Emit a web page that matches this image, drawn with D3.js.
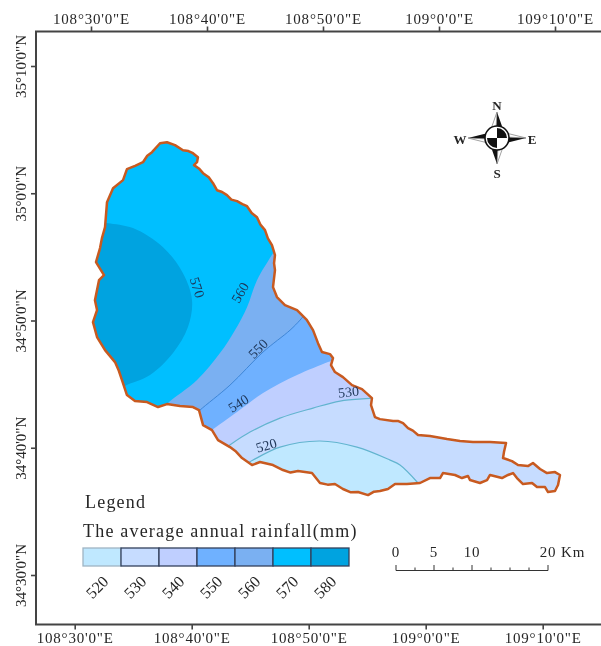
<!DOCTYPE html>
<html>
<head>
<meta charset="utf-8">
<style>
  html, body { margin: 0; padding: 0; background: #fff; }
  svg { display: block; filter: blur(0.45px); }
  text { font-family: "Liberation Serif", serif; fill: #262626; }
</style>
<script src="https://cdn.jsdelivr.net/npm/d3@7"></script>
</head>
<body>
<svg id="map" width="601" height="646"></svg>
<script>
// all map coordinates: [minutes east of 108°30', minutes north of 34°30']
var lonTicks = [0, 10, 20, 30, 40]
var lonLabels = ['108°30\'0"E', '108°40\'0"E', '108°50\'0"E', '109°0\'0"E', '109°10\'0"E']
var latTicks = [0, 10, 20, 30, 40]
var latLabels = ['34°30\'0"N', '34°40\'0"N', '34°50\'0"N', '35°0\'0"N', '35°10\'0"N']

var legendValues = [520, 530, 540, 550, 560, 570, 580]
var legendColors = ['#bfe8ff', '#c6dcff', '#bfcfff', '#6fb1ff', '#7ab0f2', '#00bfff', '#00a3e0']

var scaleKm = [0, 5, 10, 20]
var scaleMinor = [0, 2.5, 5, 7.5, 10, 12.5, 15, 17.5, 20]

var basin = [
  [5.95, 33.93], [6.55, 34.01], [7.24, 33.78], [7.93, 33.38], [8.40, 33.32], [8.79, 33.15], [9.22, 32.83], [9.14, 32.44], [8.88, 32.21],
  [9.30, 31.95], [9.66, 31.58], [10.15, 31.25], [10.52, 30.79], [10.86, 30.24], [11.30, 30.10], [11.72, 29.85], [12.10, 29.50], [12.59, 29.38], [13.05, 29.15], [13.45, 28.98], [13.85, 28.45], [14.31, 28.12],
  [14.60, 27.55], [15.00, 27.10], [15.25, 26.45], [15.60, 25.92], [15.86, 25.14], [15.78, 24.50], [15.86, 23.96], [15.69, 22.62], [16.03, 21.84], [16.72, 21.21],
  [17.76, 20.82], [18.02, 20.58], [18.60, 20.05], [19.14, 19.24], [19.57, 18.22], [19.91, 17.52], [20.60, 17.36], [20.86, 17.05],
  [20.69, 16.50], [21.03, 15.95], [21.72, 15.55], [22.50, 14.92], [23.36, 14.61], [24.22, 13.90], [24.14, 13.35],
  [24.48, 12.41], [24.91, 12.25], [26.04, 12.10], [26.50, 12.10], [26.90, 11.94], [27.33, 11.55], [27.75, 11.35], [28.19, 11.00], [29.22, 10.92],
  [30.69, 10.68], [31.81, 10.53], [32.93, 10.45], [34.40, 10.45], [35.78, 10.37], [35.60, 9.66], [35.52, 9.19],
  [36.29, 8.95], [36.81, 8.64], [37.67, 8.56], [38.10, 8.80], [38.71, 8.33], [39.31, 8.01], [40.00, 8.09], [40.43, 7.86],
  [40.26, 7.07], [40.00, 6.60], [39.40, 6.52], [39.14, 6.91], [38.45, 6.91], [38.02, 7.23], [37.24, 7.15], [36.72, 7.62],
  [36.38, 8.01], [35.95, 7.86], [35.43, 7.62], [34.40, 7.86], [34.14, 7.46], [33.53, 7.23], [32.67, 7.46], [32.50, 7.78],
  [31.98, 7.62], [31.38, 7.86], [30.34, 8.01], [30.09, 7.62], [29.22, 7.62], [28.36, 7.23], [27.24, 7.15], [26.21, 7.15],
  [25.60, 6.76], [24.91, 6.60], [24.40, 6.55], [23.88, 6.28], [23.02, 6.52], [22.40, 6.50], [21.72, 6.76], [21.03, 7.15], [20.40, 7.10], [19.74, 7.23], [19.05, 8.01],
  [17.84, 8.17], [17.20, 8.05], [16.55, 8.25], [15.69, 8.64], [14.57, 8.88], [13.88, 8.64], [13.02, 9.19], [12.50, 9.70], [11.98, 10.05], [10.95, 10.60],
  [10.43, 11.39], [9.66, 11.78], [9.31, 12.96], [8.79, 13.20], [7.67, 13.28], [6.55, 13.43], [5.78, 13.20], [4.83, 13.59],
  [3.79, 13.67], [3.10, 14.14], [2.67, 15.32], [2.40, 16.05], [2.07, 16.73], [1.21, 17.67], [0.52, 18.70], [0.17, 19.87], [0.52, 20.82], [0.34, 21.60],
  [0.69, 23.17], [1.12, 23.57], [0.43, 24.59], [0.78, 25.69], [0.95, 26.50], [1.21, 27.34], [1.38, 29.30], [1.90, 30.40], [2.76, 31.03],
  [3.10, 31.89], [3.80, 32.15], [4.48, 32.44], [4.85, 32.95], [5.26, 33.23]
]

// band edges, north-east end first, running a little past the outline
var edge580 = [[0.78, 27.73], [1.47, 27.65], [3.62, 27.26], [6.21, 25.76], [7.93, 23.72], [8.71, 21.60], [8.36, 19.48], [7.07, 17.44], [5.09, 15.71], [2.93, 14.85], [2.33, 14.45]]
var edge570 = [[16.12, 25.92], [15.69, 25.29], [14.31, 23.17], [13.45, 21.05], [12.41, 19.24], [11.12, 17.44], [9.14, 15.32], [6.64, 13.51], [6.21, 13.04]]
var edge560 = [[18.45, 20.50], [18.02, 20.03], [17.16, 19.24], [14.83, 17.52], [11.98, 14.92], [9.40, 12.96], [8.97, 12.57]]
var edge550 = [[21.47, 17.12], [20.43, 16.73], [17.76, 15.71], [14.83, 14.30], [12.59, 12.80], [10.43, 11.39], [9.83, 11.00]]
var edge540 = [[24.91, 13.98], [24.22, 13.90], [21.47, 13.67], [19.14, 13.12], [16.29, 12.33], [13.71, 11.23], [11.81, 10.13], [11.29, 9.82]]
var edge530 = [[13.53, 8.80], [13.97, 9.03], [16.29, 10.05], [19.74, 10.53], [22.93, 10.05], [25.78, 9.03], [26.64, 8.64], [28.19, 7.23], [28.53, 6.84]]

// outside corners that close each band polygon
var closeNorthWest = [[-3, 6], [-3, 38], [27, 38]]
var closeWest = [[-3, 6], [-3, 38]]
var closeSouth = [[28.53, 4.32], [13.53, 4.32]]

var isoLabels = ['570', '560', '550', '540', '530', '520']
var isoLabelPos = [[9.17, 22.6], [12.85, 22.2], [14.4, 17.8], [12.7, 13.5], [22.2, 14.4], [15.1, 10.2]]
var isoLabelAngle = [72, -60, -45, -32, -6, -16]

var svg = d3.select('#map')

var xTop = d3.scaleLinear().domain([0, 40]).range([91, 555])
var xBottom = d3.scaleLinear().domain([0, 40]).range([74.7, 542.7])
var y = d3.scaleLinear().domain([0, 40]).range([575, 66])

var line = d3.line().x((d) => { return xTop(d[0]) }).y((d) => { return y(d[1]) })
var smooth = d3.line().x((d) => { return xTop(d[0]) }).y((d) => { return y(d[1]) }).curve(d3.curveCatmullRom)

// smooth edge, then straight out to the closing corners
var band = (edge, corners) => {
  return smooth(edge) + line(corners).replace('M', 'L') + 'Z'
}

svg.append('clipPath').attr('id', 'basin-clip')
  .append('path').attr('d', line(basin) + 'Z')

// bands, painted from the outside in
var bands = svg.append('g').attr('clip-path', 'url(#basin-clip)')
bands.append('path').attr('d', line(basin) + 'Z').attr('fill', legendColors[1])
bands.append('path').attr('d', band(edge530, closeSouth)).attr('fill', legendColors[0])
bands.append('path').attr('d', band(edge540, closeNorthWest)).attr('fill', legendColors[2])
bands.append('path').attr('d', band(edge550, closeNorthWest)).attr('fill', legendColors[3])
bands.append('path').attr('d', band(edge560, closeNorthWest)).attr('fill', legendColors[4])
bands.append('path').attr('d', band(edge570, closeNorthWest)).attr('fill', legendColors[5])
bands.append('path').attr('d', band(edge580, closeWest)).attr('fill', legendColors[6])

bands.append('path').attr('d', smooth(edge560)).attr('fill', 'none').attr('stroke', '#3f86d6').attr('stroke-width', 1)
bands.append('path').attr('d', smooth(edge540)).attr('fill', 'none').attr('stroke', '#62b4cf').attr('stroke-width', 1.2)
bands.append('path').attr('d', smooth(edge530)).attr('fill', 'none').attr('stroke', '#62b4cf').attr('stroke-width', 1.2)

svg.append('path')
  .attr('d', line(basin) + 'Z')
  .attr('fill', 'none')
  .attr('stroke', '#c85a20')
  .attr('stroke-width', 2.5)
  .attr('stroke-linejoin', 'round')

svg.append('g').selectAll('text')
  .data(isoLabels)
  .enter()
  .append('text')
  .attr('transform', (d, i) => {
    return 'translate(' + xTop(isoLabelPos[i][0]) + ',' + y(isoLabelPos[i][1]) + ') rotate(' + isoLabelAngle[i] + ')'
  })
  .attr('text-anchor', 'middle')
  .attr('dy', '.35em')
  .style('font-size', '14px')
  .style('fill', '#1d3557')
  .text((d) => { return d })

// frame and graticule ticks
var axisTop = d3.axisTop(xTop).tickValues(lonTicks).tickSize(5).tickPadding(3)
  .tickFormat((d, i) => { return lonLabels[i] })
var axisBottom = d3.axisBottom(xBottom).tickValues(lonTicks).tickSize(5).tickPadding(3)
  .tickFormat((d, i) => { return lonLabels[i] })
var axisLeft = d3.axisLeft(y).tickValues(latTicks).tickSize(5).tickPadding(3)
  .tickFormat((d, i) => { return latLabels[i] })

var topG = svg.append('g').attr('transform', 'translate(0,31.5)').call(axisTop)
var bottomG = svg.append('g').attr('transform', 'translate(0,624.5)').call(axisBottom)
var leftG = svg.append('g').attr('transform', 'translate(36,0)').call(axisLeft)
leftG.selectAll('text')
  .attr('transform', 'rotate(-90)')
  .attr('x', 0)
  .attr('y', -15)
  .attr('text-anchor', 'middle')

svg.selectAll('.domain').remove()
svg.selectAll('.tick line').attr('stroke', '#444').attr('stroke-width', 1.6)
svg.selectAll('.tick text').style('font-family', '"Liberation Serif", serif').style('font-size', '15px').style('fill', '#262626')
topG.selectAll('text').style('letter-spacing', '0.8px')
bottomG.selectAll('text').style('letter-spacing', '0.8px')

svg.append('path')
  .attr('d', 'M601,31.5H36V624.5H601')
  .attr('fill', 'none')
  .attr('stroke', '#444')
  .attr('stroke-width', 2)

// legend
svg.append('text').attr('x', 85).attr('y', 508)
  .style('font-size', '18px').style('letter-spacing', '1.2px').text('Legend')
svg.append('text').attr('x', 83).attr('y', 537)
  .style('font-size', '18px').style('letter-spacing', '1.2px').text('The average annual rainfall(mm)')

var legendX = d3.scaleBand().domain(legendValues).range([83, 349])
svg.append('g').selectAll('rect')
  .data(legendValues)
  .enter()
  .append('rect')
  .attr('x', (d) => { return legendX(d) })
  .attr('y', 548)
  .attr('width', legendX.bandwidth())
  .attr('height', 18)
  .attr('fill', (d, i) => { return legendColors[i] })
  .attr('stroke', (d, i) => { return i === 0 ? '#9fb4c4' : '#33415c' })
  .attr('stroke-width', 1.3)

svg.append('g').selectAll('text')
  .data(legendValues)
  .enter()
  .append('text')
  .attr('transform', (d) => { return 'translate(' + (legendX(d) + 14) + ',587) rotate(-45)' })
  .attr('text-anchor', 'middle')
  .attr('dy', '.35em')
  .style('font-size', '16px')
  .text((d) => { return d })

// scale bar
var km = d3.scaleLinear().domain([0, 20]).range([396, 548])
var scaleG = svg.append('g').attr('stroke', '#333').attr('stroke-width', 1)
scaleG.append('line').attr('x1', km(0)).attr('x2', km(20)).attr('y1', 570.5).attr('y2', 570.5)
scaleG.selectAll('.minor')
  .data(scaleMinor)
  .enter()
  .append('line')
  .attr('x1', (d) => { return km(d) })
  .attr('x2', (d) => { return km(d) })
  .attr('y1', 570.5)
  .attr('y2', (d) => { return scaleKm.indexOf(d) >= 0 ? 565 : 567.5 })

svg.append('g').selectAll('text')
  .data(scaleKm)
  .enter()
  .append('text')
  .attr('x', (d) => { return km(d) })
  .attr('y', 557)
  .attr('text-anchor', 'middle')
  .style('font-size', '15px')
  .style('letter-spacing', '0.8px')
  .text((d) => { return d })
svg.append('text').attr('x', 561).attr('y', 557).style('font-size', '15px').style('letter-spacing', '0.8px').text('Km')

// north arrow
var compass = svg.append('g').attr('transform', 'translate(497,138)')
compass.append('path').attr('d', 'M0,-26L6,-9L-1,-9Z M0,26L-6,9L1,9Z M-29,0L-9,-5L-9,1Z M29,0L9,5L9,-1Z').attr('fill', '#111')
compass.append('path').attr('d', 'M0,-26L-6,-9L-1,-9Z M0,26L6,9L1,9Z M-29,0L-9,5L-9,1Z M29,0L9,-5L9,-1Z')
  .attr('fill', '#fff').attr('stroke', '#777').attr('stroke-width', 0.7)
compass.append('circle').attr('r', 12).attr('fill', '#fff').attr('stroke', '#111').attr('stroke-width', 1.6)
compass.append('path').attr('d', 'M0,0V-10A10,10 0 0 1 10,0Z M0,0V10A10,10 0 0 1 -10,0Z').attr('fill', '#111')

var compassLabels = [['N', 497, 105], ['S', 497, 173], ['W', 460, 139], ['E', 532, 139]]
svg.append('g').selectAll('text')
  .data(compassLabels)
  .enter()
  .append('text')
  .attr('x', (d) => { return d[1] })
  .attr('y', (d) => { return d[2] })
  .attr('dy', '.35em')
  .attr('text-anchor', 'middle')
  .style('font-size', '13px')
  .style('font-weight', 'bold')
  .text((d) => { return d[0] })
</script>
</body>
</html>
